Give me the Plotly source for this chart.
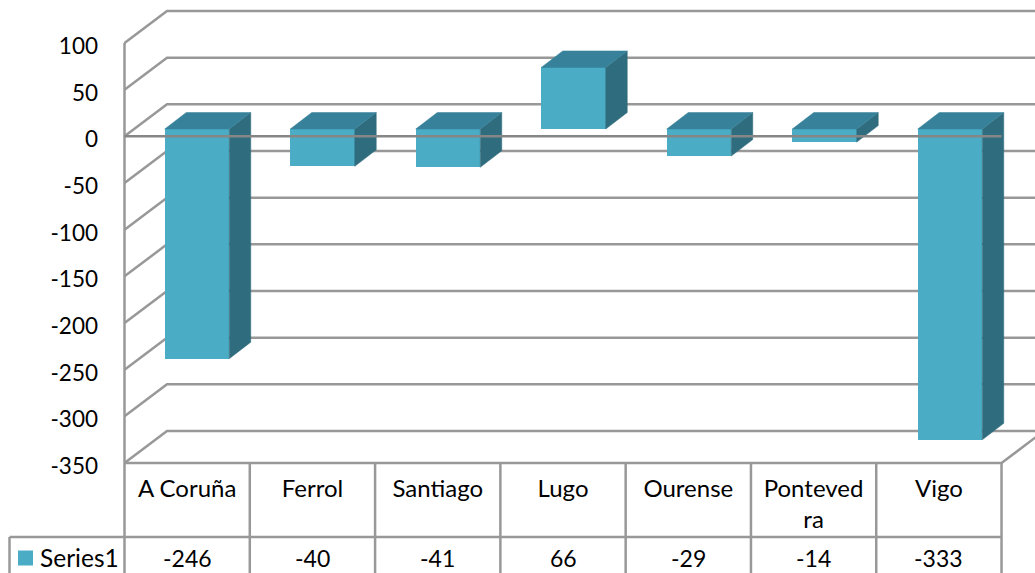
import plotly.graph_objects as go

categories = ["A Coruña", "Ferrol", "Santiago", "Lugo", "Ourense", "Pontevedra", "Vigo"]
category_labels = ["A Coruña", "Ferrol", "Santiago", "Lugo", "Ourense", "Ponteved<br>ra", "Vigo"]
values = [-246, -40, -41, 66, -29, -14, -333]
series_name = "Series1"
y_ticks = [100, 50, 0, -50, -100, -150, -200, -250, -300, -350]

W, H = 1035, 573
FONT = "Lato"
GRID = "#989898"
FRONT, SIDE, TOP = "#4BACC6", "#2F6C7E", "#37829A"

# pixel geometry of the oblique projection
SLOT = 125.29
BAR_SLOT = 125.5
UNIT = 420 / 450
L, B = 99, 470
X0, Y_m350 = 124.5, 463


def x_at(px):
    return (px - X0) / SLOT


def y_at(py):
    return -350 + (Y_m350 - py) / UNIT


def xp(px):
    return (px - L) / (W - L)


def yp(py):
    return (B - py) / B


WALL_DX, WALL_DY = 42.5 / SLOT, 32 / UNIT
BAR_DX, BAR_DY = 21.5 / SLOT, 16.5 / UNIT
BAR_W = 64.5 / SLOT
BAR_BASE = 7.3 / UNIT
n = len(values)
centers = [x_at(197 + i * BAR_SLOT) for i in range(n)]

fig = go.Figure()

# side and top faces, derived from the values
for c, v in zip(centers, values):
    left, right = c - BAR_W / 2, c + BAR_W / 2
    top = BAR_BASE + max(v, 0)
    bot = BAR_BASE + min(v, 0)
    fig.add_trace(go.Scatter(
        x=[right, right + BAR_DX, right + BAR_DX, right, right],
        y=[top, top + BAR_DY, bot + BAR_DY, bot, top],
        mode="lines", fill="toself", fillcolor=SIDE, line=dict(width=0.5, color=SIDE),
        showlegend=False, hoverinfo="skip"))
    fig.add_trace(go.Scatter(
        x=[left, left + BAR_DX, right + BAR_DX, right, left],
        y=[top, top + BAR_DY, top + BAR_DY, top, top],
        mode="lines", fill="toself", fillcolor=TOP, line=dict(width=0.5, color=TOP),
        showlegend=False, hoverinfo="skip"))

# front faces
fig.add_trace(go.Bar(
    x=centers, y=values, base=BAR_BASE, width=BAR_W, name=series_name,
    marker=dict(color=FRONT, line=dict(width=0)), showlegend=False,
    customdata=categories, hovertemplate="%{customdata}: %{y}<extra></extra>"))

shapes = []
line = dict(color=GRID, width=2.5)
right_edge = x_at(W + 5)

# back wall, left wall and floor grid lines
for t in y_ticks:
    shapes.append(dict(type="path", layer="below", xref="x", yref="y", line=line,
                       path=f"M 0 {t} L {WALL_DX} {t + WALL_DY} L {right_edge} {t + WALL_DY}"))
shapes.append(dict(type="line", layer="below", xref="x", yref="y", x0=0, x1=0,
                   y0=-350, y1=100, line=line))
shapes.append(dict(type="path", layer="below", xref="x", yref="y", line=line,
                   path=f"M 0 -350 L {n} -350 L {n + WALL_DX} {-350 + WALL_DY}"))
# zero line in front of the columns
shapes.append(dict(type="line", layer="above", xref="x", yref="y", x0=0, x1=n,
                   y0=0, y1=0, line=dict(color="#868686", width=2.5)))

# data table
for i in range(n + 1):
    px = X0 + i * SLOT
    shapes.append(dict(type="line", layer="below", xref="paper", yref="paper",
                       x0=xp(px), x1=xp(px), y0=yp(463), y1=yp(580), line=line))
shapes.append(dict(type="line", layer="below", xref="paper", yref="paper",
                   x0=xp(9.5), x1=xp(X0 + n * SLOT), y0=yp(537), y1=yp(537), line=line))
shapes.append(dict(type="line", layer="below", xref="paper", yref="paper",
                   x0=xp(9.5), x1=xp(9.5), y0=yp(537), y1=yp(580), line=line))
# legend key
shapes.append(dict(type="rect", layer="above", xref="paper", yref="paper",
                   x0=xp(18), x1=xp(33), y0=yp(550.5), y1=yp(565.5),
                   fillcolor=FRONT, line=dict(width=0)))

annotations = [
    dict(x=xp(X0 + (i + 0.5) * SLOT), y=yp(557.5), xref="paper", yref="paper",
         text=str(v), showarrow=False, xanchor="center", yanchor="middle",
         font=dict(family=FONT, size=23, color="black"))
    for i, v in enumerate(values)
]
annotations.append(dict(x=xp(38), y=yp(557.5), xref="paper", yref="paper", text=series_name,
                        showarrow=False, xanchor="left", yanchor="middle",
                        font=dict(family=FONT, size=24.5, color="black")))

fig.update_layout(
    width=W, height=H, autosize=False,
    margin=dict(l=L, r=0, t=0, b=H - B, pad=0, autoexpand=False),
    paper_bgcolor="white", plot_bgcolor="white",
    font=dict(family=FONT, size=23, color="black"),
    shapes=shapes, annotations=annotations, bargap=0, showlegend=False,
    xaxis=dict(range=[x_at(L), x_at(W)], tickmode="array",
               tickvals=[i + 0.5 for i in range(n)], ticktext=category_labels,
               showgrid=False, zeroline=False, showline=False, ticks="", ticklabelstandoff=2,
               tickfont=dict(family=FONT, size=24, color="black"), fixedrange=True),
    yaxis=dict(range=[y_at(B), y_at(0)], tickmode="array", tickvals=y_ticks,
               ticktext=[str(t) for t in y_ticks], showgrid=False, zeroline=False,
               showline=False, ticks="", ticklabelshift=3,
               tickfont=dict(family=FONT, size=22.5, color="black"), fixedrange=True),
)

fig.write_html("out.html", post_script="document.body.style.margin='0';document.body.style.overflow='hidden';",
               config=dict(displayModeBar=False))
